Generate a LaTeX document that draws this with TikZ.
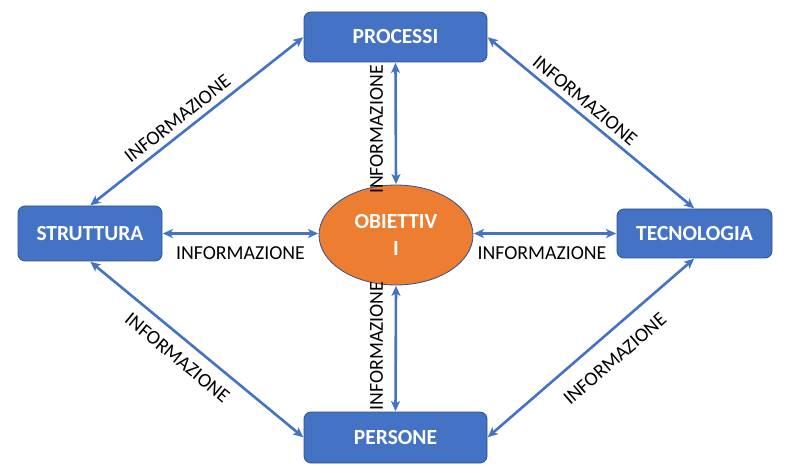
\documentclass[tikz,border=0pt]{standalone}
\usepackage{fontspec}
\setmainfont{Carlito}
\usetikzlibrary{shapes.geometric,arrows.meta}
\definecolor{boxblue}{HTML}{4472C4}
\definecolor{boxedge}{HTML}{2F528F}
\definecolor{objorange}{HTML}{ED7D31}
\tikzset{
  box/.style={draw=boxedge, line width=0.8pt, fill=boxblue, rounded corners=7pt, inner sep=0pt,
    text=white, font=\fontsize{21.5}{26}\selectfont\bfseries},
  goal/.style={ellipse, draw=boxedge, line width=0.8pt, fill=objorange, inner sep=0pt,
    minimum width=154pt, minimum height=100pt, align=center, text=white,
    font=\fontsize{21.5}{27}\selectfont\bfseries},
  arr/.style={draw=boxblue, line width=2.6pt, {Stealth[length=10pt,width=9pt,inset=2.5pt]}-{Stealth[length=10pt,width=9pt,inset=2.5pt]}, shorten <=0.5pt, shorten >=0.5pt},
  info/.style={font=\fontsize{19.8}{22}\selectfont, text=black, inner sep=1.5pt},
}
\begin{document}
\begin{tikzpicture}[x=1pt,y=-1pt]
\useasboundingbox (0,0) rectangle (788,473);
\node[box, minimum width=183pt, minimum height=50pt] (proc) at (395.5,37) {PROCESSI};
\node[box, minimum width=144pt, minimum height=55pt] (strut) at (90,233.5) {STRUTTURA};
\node[box, minimum width=155pt, minimum height=49pt] (tecn) at (694.5,233.5) {TECNOLOGIA};
\node[box, minimum width=183pt, minimum height=51pt] (pers) at (395.5,437.5) {PERSONE};
\node[goal] (obj) at (396,235) {OBIETTIV\\I};

\draw[arr] (strut.north) -- node[info, sloped, above, pos=0.45, inner sep=6pt] {INFORMAZIONE} (proc.west);
\draw[arr] (proc.east) -- node[info, sloped, above, pos=0.43, inner sep=5.5pt] {INFORMAZIONE} (tecn.north);
\draw[arr] (strut.south) -- node[info, sloped, below, pos=0.465, inner sep=11pt] {INFORMAZIONE} (pers.west);
\draw[arr] (pers.east) -- node[info, sloped, below, pos=0.54, inner sep=16pt] {INFORMAZIONE} (tecn.south);

\draw[arr] (obj.north) -- node[info, rotate=90, anchor=south, pos=0.45, inner sep=11.5pt] {INFORMAZIONE} (proc.south);
\draw[arr] (pers.north) -- node[info, rotate=90, anchor=south, pos=0.52, inner sep=11.5pt] {INFORMAZIONE} (obj.south);

\draw[arr] (strut.east) -- node[info, below, inner sep=12pt] {INFORMAZIONE} (strut.east -| obj.west);
\draw[arr] (tecn.west -| obj.east) -- node[info, below, inner sep=12pt, xshift=-3pt] {INFORMAZIONE} (tecn.west);
\end{tikzpicture}
\end{document}
